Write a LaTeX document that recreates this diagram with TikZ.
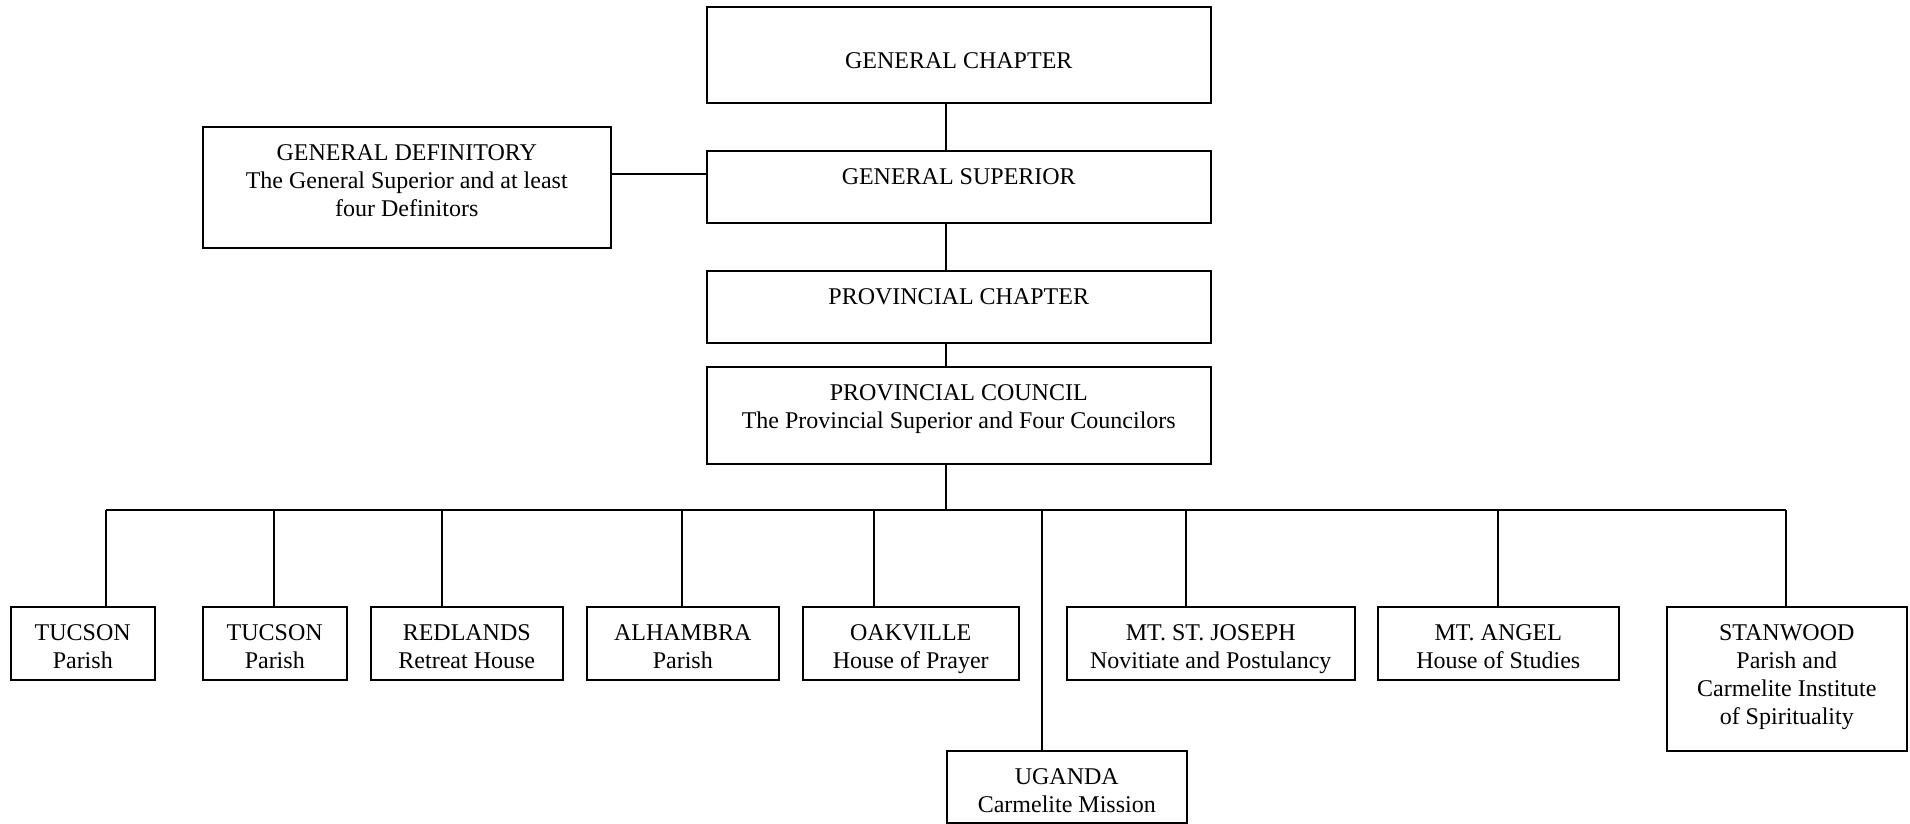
\documentclass[tikz,border=0pt]{standalone}
\usepackage{fontspec}
\setmainfont{Liberation Serif}
\tikzset{
  box/.style={draw, line width=1.5pt, inner sep=0pt, anchor=north west},
  txt/.style={anchor=north, inner sep=0pt, align=center, font=\fontsize{24}{28}\selectfont},
  link/.style={line width=1.3pt}
}
\newcommand\bx[7][14]{%
  \node[box, minimum width={#5-#3}, minimum height={#6-#4}] (#2) at (#3,#4) {};
  \node[txt, yshift=-#1pt] (#2-t) at (#2.north) {\rule{0pt}{20pt}#7};
}
\begin{document}
\begin{tikzpicture}[x=1pt, y=-1pt]
\useasboundingbox (0,0) rectangle (1910,823);
% upper boxes
\bx[42]{gc}{706}{6}{1210}{102}{GENERAL CHAPTER}
\bx{gs}{706}{150}{1210}{222}{GENERAL SUPERIOR}
\bx{gd}{202}{126}{610}{247}{GENERAL DEFINITORY\\The General Superior and at least\\four Definitors}
\bx{pch}{706}{270}{1210}{342}{PROVINCIAL CHAPTER}
\bx{pco}{706}{366}{1210}{463}{PROVINCIAL COUNCIL\\The Provincial Superior and Four Councilors}
% lower boxes
\bx{t1}{10}{606}{154}{679}{TUCSON\\Parish}
\bx{t2}{202}{606}{346}{679}{TUCSON\\Parish}
\bx{red}{370}{606}{562}{679}{REDLANDS\\Retreat House}
\bx{alh}{586}{606}{778}{679}{ALHAMBRA\\Parish}
\bx{oak}{802}{606}{1018}{679}{OAKVILLE\\House of Prayer}
\bx{uga}{946}{750}{1186}{822}{UGANDA\\Carmelite Mission}
\bx{msj}{1066}{606}{1354}{679}{MT. ST. JOSEPH\\Novitiate and Postulancy}
\bx{mta}{1377}{606}{1618}{679}{MT. ANGEL\\House of Studies}
\bx{stw}{1666}{606}{1906}{750}{STANWOOD\\Parish and\\Carmelite Institute\\of Spirituality}
% connectors
\coordinate (sp) at (946,0);
\coordinate (dj) at (0,174);
\coordinate (bus) at (0,510);
\draw[link] (gc.south -| sp) -- (gs.north -| sp);
\draw[link] (gs.south -| sp) -- (pch.north -| sp);
\draw[link] (pch.south -| sp) -- (pco.north -| sp);
\draw[link] (pco.south -| sp) -- (bus -| sp);
\draw[link] (gd.east |- dj) -- (gs.west |- dj);
\coordinate (c1) at (106,0);
\coordinate (c2) at (274,0);
\coordinate (c3) at (442,0);
\coordinate (c4) at (682,0);
\coordinate (c5) at (874,0);
\coordinate (c6) at (1042,0);
\coordinate (c7) at (1186,0);
\coordinate (c8) at (1498,0);
\coordinate (c9) at (1786,0);
\draw[link] (bus -| c1) -- (bus -| c9);
\draw[link] (bus -| c1) -- (t1.north -| c1);
\draw[link] (bus -| c2) -- (t2.north -| c2);
\draw[link] (bus -| c3) -- (red.north -| c3);
\draw[link] (bus -| c4) -- (alh.north -| c4);
\draw[link] (bus -| c5) -- (oak.north -| c5);
\draw[link] (bus -| c6) -- (uga.north -| c6);
\draw[link] (bus -| c7) -- (msj.north -| c7);
\draw[link] (bus -| c8) -- (mta.north -| c8);
\draw[link] (bus -| c9) -- (stw.north -| c9);
\end{tikzpicture}
\end{document}
